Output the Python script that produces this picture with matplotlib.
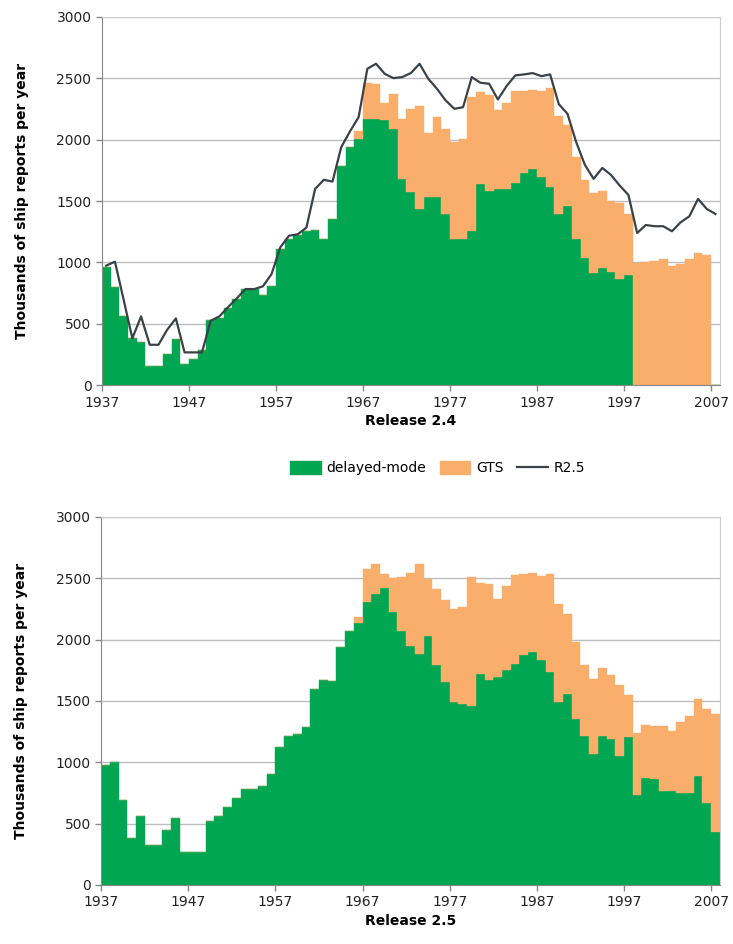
import numpy as np
import matplotlib
matplotlib.use('Agg')
import matplotlib.pyplot as plt
from matplotlib.lines import Line2D
from matplotlib.patches import Patch

# years 1937..2007, one bar per year
years = np.arange(1937, 2008)

# Release 2.4 (thousands of ship reports per year)
delayed_24 = [964, 796, 562, 386, 350, 155, 160, 253, 375, 171,
              217, 285, 530, 551, 630, 698, 787, 787, 733, 806,
              1113, 1187, 1222, 1255, 1263, 1195, 1352, 1787, 1941, 2009,
              2172, 2172, 2159, 2091, 1683, 1575, 1439, 1534, 1534, 1398,
              1195, 1195, 1257, 1643, 1583, 1602, 1602, 1648, 1730, 1765,
              1697, 1616, 1398, 1458, 1195, 1040, 910, 958, 923, 861,
              896, 0, 0, 0, 0, 0, 0, 0, 0, 0,
              0]
gts_24 = [0, 0, 0, 0, 0, 0, 0, 0, 0, 0,
          0, 0, 0, 0, 0, 0, 0, 0, 0, 0,
          0, 0, 0, 0, 0, 0, 0, 0, 0, 63,
          291, 280, 141, 285, 489, 679, 834, 521, 652, 693,
          787, 814, 1092, 746, 779, 643, 698, 747, 665, 643,
          698, 809, 793, 660, 665, 630, 657, 625, 579, 624,
          497, 999, 1005, 1013, 1024, 969, 991, 1032, 1078, 1064,
          0]

# Release 2.5
delayed_25 = [974, 1006, 696, 381, 560, 329, 329, 451, 544, 267,
              267, 267, 525, 560, 636, 707, 783, 783, 805, 906,
              1123, 1218, 1229, 1284, 1599, 1673, 1659, 1939, 2067, 2138,
              2306, 2374, 2420, 2225, 2067, 1947, 1885, 2026, 1795, 1654,
              1490, 1471, 1455, 1722, 1667, 1694, 1749, 1803, 1871, 1898,
              1830, 1735, 1490, 1553, 1354, 1213, 1069, 1213, 1191, 1055,
              1210, 734, 870, 865, 770, 762, 751, 751, 892, 666,
              435]
gts_25 = [0, 0, 0, 0, 0, 0, 0, 0, 0, 0,
          0, 0, 0, 0, 0, 0, 0, 0, 0, 0,
          0, 0, 0, 0, 0, 0, 0, 0, 0, 46,
          272, 245, 117, 277, 443, 596, 734, 471, 620, 666,
          762, 794, 1055, 742, 789, 634, 688, 721, 661, 645,
          688, 797, 800, 658, 626, 582, 612, 557, 522, 571,
          340, 506, 435, 430, 525, 492, 576, 625, 626, 770,
          960]

r25_total = np.array(delayed_25) + np.array(gts_25)

green = '#00a651'
orange = '#f9ae6b'
line_col = '#3b4247'
grid_col = '#bdbdbd'

fig = plt.figure(figsize=(7.33, 9.44), dpi=100)
ax1 = fig.add_axes([0.139, 0.592, 0.843, 0.390])
ax2 = fig.add_axes([0.138, 0.0625, 0.844, 0.390])


def style(ax, label):
    ax.set_xlim(1937, 2008)
    ax.set_ylim(0, 3000)
    ax.set_yticks(range(0, 3001, 500))
    ax.set_xticks(range(1937, 2008, 10))
    ax.yaxis.grid(True, color=grid_col, lw=1)
    ax.set_axisbelow(True)
    for s in ax.spines.values():
        s.set_color('#cccccc')
    ax.spines['left'].set_color('#888888')
    ax.spines['bottom'].set_color('#888888')
    ax.tick_params(axis='both', colors='#888888', labelcolor='#222222',
                   labelsize=10, length=4, width=1)
    ax.set_xlabel(label, fontsize=10, fontweight='bold', labelpad=3)
    ax.set_ylabel('Thousands of ship reports per year', fontsize=10,
                  fontweight='bold')
    ax.yaxis.set_label_coords(-0.118, 0.5)


# top panel: Release 2.4 with R2.5 totals as a line
ax1.bar(years, delayed_24, width=1, align='edge', color=green,
        edgecolor=green, lw=0.3)
ax1.bar(years, gts_24, bottom=delayed_24, width=1, align='edge',
        color=orange, edgecolor=orange, lw=0.3)
ax1.plot(years + 0.5, r25_total, color=line_col, lw=1.6)
style(ax1, 'Release 2.4')

# bottom panel: Release 2.5
ax2.bar(years, delayed_25, width=1, align='edge', color=green,
        edgecolor=green, lw=0.3)
ax2.bar(years, gts_25, bottom=delayed_25, width=1, align='edge',
        color=orange, edgecolor=orange, lw=0.3)
style(ax2, 'Release 2.5')

handles = [Patch(color=green, label='delayed-mode'),
           Patch(color=orange, label='GTS'),
           Line2D([], [], color=line_col, lw=1.6, label='R2.5')]
fig.legend(handles=handles, loc='center', bbox_to_anchor=(0.597, 0.504),
           ncol=3, frameon=False, fontsize=10, handlelength=2.2,
           handleheight=1.1, columnspacing=1.0, handletextpad=0.4)

fig.savefig('out.png', dpi=100)
